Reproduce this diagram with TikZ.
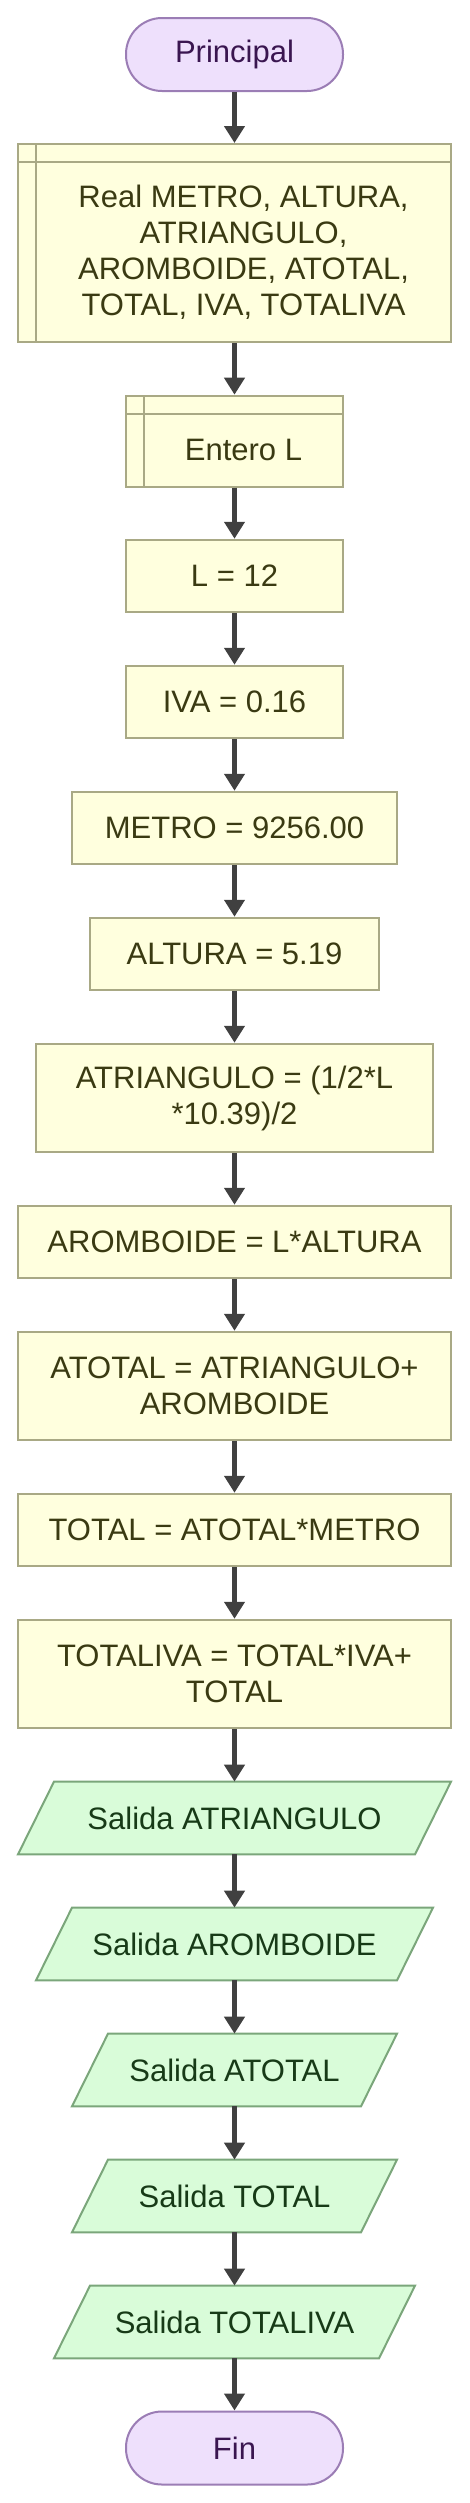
\documentclass[tikz,border=0pt]{standalone}
\usepackage{fontspec}
\setmainfont{Liberation Sans}
\usetikzlibrary{arrows.meta}
\definecolor{termfill}{HTML}{EEE0FC}
\definecolor{termline}{HTML}{9B7DB5}
\definecolor{termtext}{HTML}{3A1650}
\definecolor{procfill}{HTML}{FFFFDE}
\definecolor{procline}{HTML}{A9A985}
\definecolor{proctext}{HTML}{3A3A12}
\definecolor{iofill}{HTML}{D9FCD9}
\definecolor{ioline}{HTML}{7BA67B}
\definecolor{iotext}{HTML}{173A17}
\definecolor{arrowc}{HTML}{404040}
\pgfdeclarelayer{background}
\pgfsetlayers{background,main}
\begin{document}
\begin{tikzpicture}[x=1pt,y=1pt,
  every node/.style={font=\fontsize{31pt}{36pt}\selectfont, align=center, inner sep=0pt},
  term/.style={rectangle, rounded corners=36pt, draw=termline, fill=termfill, text=termtext, line width=2pt, minimum width=217pt, minimum height=73pt},
  proc/.style={rectangle, draw=procline, fill=procfill, text=proctext, line width=2pt, minimum height=72.5pt},
  proctwo/.style={proc, minimum height=108.5pt},
  decl/.style={proc, path picture={
      \draw[procline, line width=2pt] ([xshift=18pt]path picture bounding box.north west) -- ([xshift=18pt]path picture bounding box.south west);
      \draw[procline, line width=2pt] ([yshift=-18pt]path picture bounding box.north west) -- ([yshift=-18pt]path picture bounding box.north east);}},
  decltext/.style={text=proctext},
  io/.style={rectangle, outer sep=0pt, text=iotext, minimum height=72.7pt},
  iopar/.style={draw=ioline, fill=iofill, line width=2pt, line join=miter},
  flow/.style={draw=arrowc, line width=4.5pt, -{Triangle[width=20pt,length=17pt]}}
]
\useasboundingbox (0,0) rectangle (469,-2503);

\node[term] (start) at (234.5,-54.5) {Principal};
\node[decl, minimum width=433pt, minimum height=198pt] (d1) at (234.5,-243) {};
\node[decltext] (d1t) at (243.5,-252) {Real METRO, ALTURA,\\ATRIANGULO,\\AROMBOIDE, ATOTAL,\\TOTAL, IVA, TOTALIVA};
\node[decl, minimum width=217pt, minimum height=91pt] (d2) at (234.5,-441.2) {};
\node[decltext] (d2t) at (243.5,-450.2) {Entero L};
\node[proc, minimum width=217pt] (p1) at (234.5,-576) {L = 12};
\node[proc, minimum width=217pt] (p2) at (234.5,-702) {IVA = 0.16};
\node[proc, minimum width=325pt] (p3) at (234.5,-828) {METRO = 9256.00};
\node[proc, minimum width=289pt] (p4) at (234.5,-954) {ALTURA = 5.19};
\node[proctwo, minimum width=397pt] (p5) at (234.5,-1098) {ATRIANGULO = (1/2*L\\*10.39)/2};
\node[proc, minimum width=433pt] (p6) at (234.5,-1242) {AROMBOIDE = L*ALTURA};
\node[proctwo, minimum width=433pt] (p7) at (234.5,-1386) {ATOTAL = ATRIANGULO+\\AROMBOIDE};
\node[proc, minimum width=433pt] (p8) at (234.5,-1530) {TOTAL = ATOTAL*METRO};
\node[proctwo, minimum width=433pt] (p9) at (234.5,-1674) {TOTALIVA = TOTAL*IVA+\\TOTAL};
\node[io, minimum width=397pt] (o1) at (234.5,-1818) {Salida ATRIANGULO};
\node[io, minimum width=361pt] (o2) at (234.5,-1944) {Salida AROMBOIDE};
\node[io, minimum width=289pt] (o3) at (234.5,-2070) {Salida ATOTAL};
\node[io, minimum width=289pt] (o4) at (234.5,-2196) {Salida TOTAL};
\node[io, minimum width=325pt] (o5) at (234.5,-2322) {Salida TOTALIVA};
\node[term] (end) at (234.5,-2448) {Fin};

\begin{pgfonlayer}{background}
\foreach \n in {o1,o2,o3,o4,o5}{
  \path[iopar] ([xshift=18pt]\n.north west) -- ([xshift=18pt]\n.north east) -- ([xshift=-18pt]\n.south east) -- ([xshift=-18pt]\n.south west) -- cycle;
}
\end{pgfonlayer}

\draw[flow] (start) -- (d1);
\draw[flow] (d1) -- (d2);
\draw[flow] (d2) -- (p1);
\draw[flow] (p1) -- (p2);
\draw[flow] (p2) -- (p3);
\draw[flow] (p3) -- (p4);
\draw[flow] (p4) -- (p5);
\draw[flow] (p5) -- (p6);
\draw[flow] (p6) -- (p7);
\draw[flow] (p7) -- (p8);
\draw[flow] (p8) -- (p9);
\draw[flow] (p9) -- (o1);
\draw[flow] (o1) -- (o2);
\draw[flow] (o2) -- (o3);
\draw[flow] (o3) -- (o4);
\draw[flow] (o4) -- (o5);
\draw[flow] (o5) -- (end);
\end{tikzpicture}
\end{document}
